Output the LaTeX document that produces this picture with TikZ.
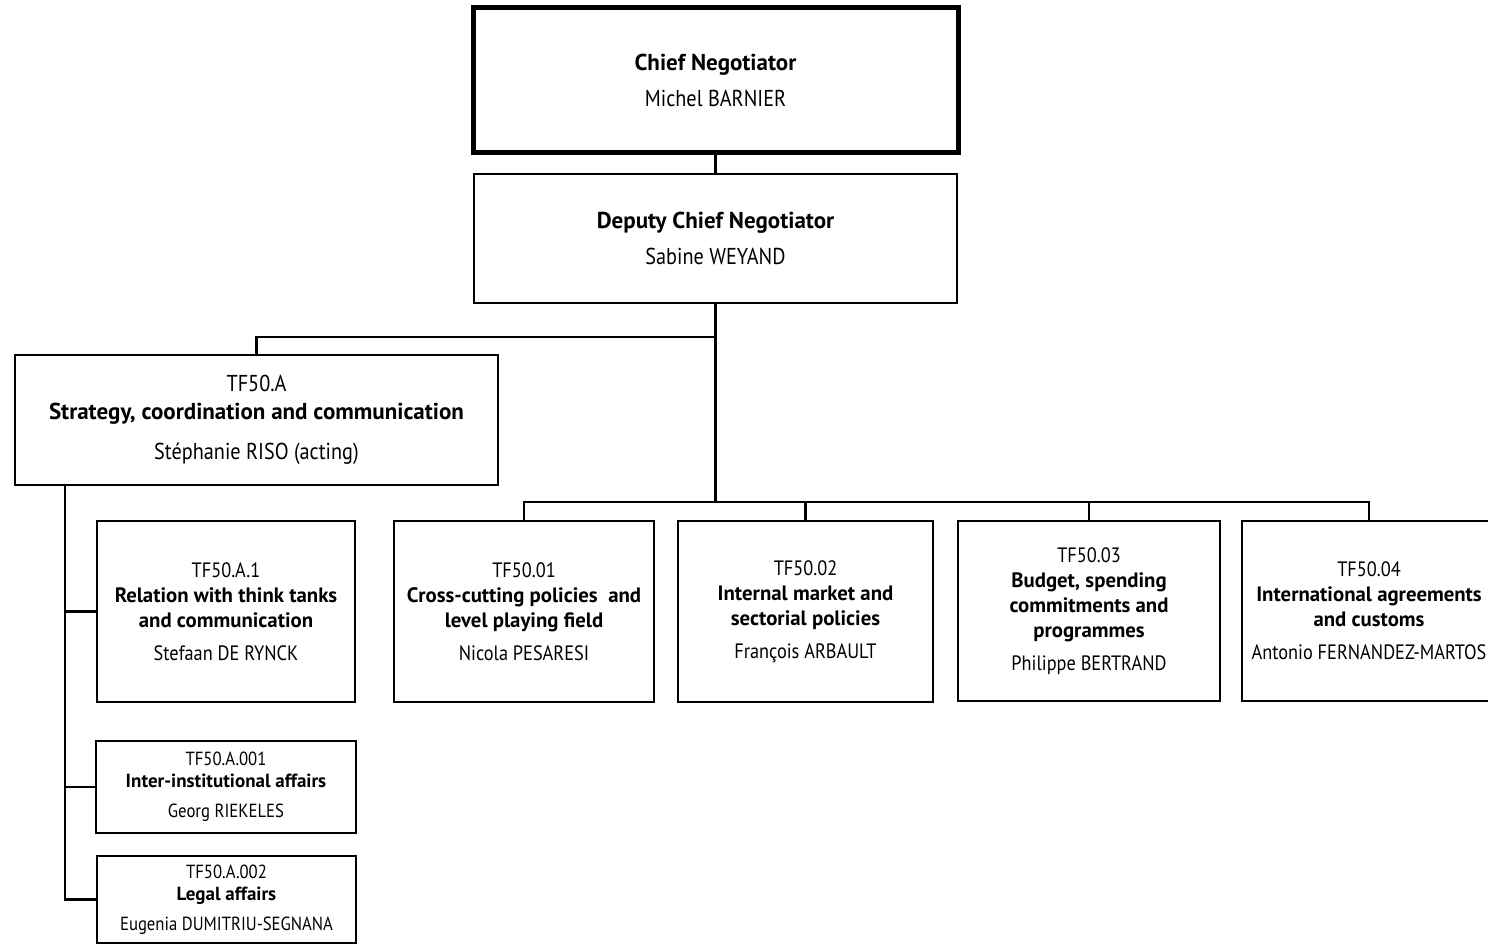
\documentclass[tikz,border=0pt]{standalone}
\usepackage{fontspec}
\setmainfont[UprightFeatures={FakeStretch=0.88}, BoldFeatures={FakeStretch=1.0}]{PT Sans}

\begin{document}
\begin{tikzpicture}[x=0.5pt, y=-0.5pt,
box/.style={rectangle, draw, line width=1.4pt, inner sep=0pt, align=center},
box-big/.style={box, font=\fontsize{11.5}{14}\selectfont},
box-unit/.style={box, font=\fontsize{10.4}{12.5}\selectfont},
box-small/.style={box, font=\fontsize{9.5}{11}\selectfont},
line/.style={draw, line width=1.3pt}
]
\useasboundingbox (0,0) rectangle (1488,945);

\node [box-big, line width=2.5pt, minimum width=242.5pt, minimum height=72.5pt] (chief) at (715.5,80.5)
{\textbf{Chief Negotiator}\\[4pt] Michel BARNIER};
\node [box-big, minimum width=241.5pt, minimum height=64.5pt] (deputy) at (715.5,238.5)
{\textbf{Deputy Chief Negotiator}\\[4pt] Sabine WEYAND};
\node [box-big, minimum width=241.5pt, minimum height=65pt] (tfa) at (256.5,420)
{TF50.A\\\textbf{Strategy, coordination and communication}\\[6pt] Stéphanie RISO (acting)};

% sub-units of TF50.A
\node [box-unit, minimum width=129pt, minimum height=90.5pt] (a1) at (226,611.5)
{TF50.A.1\\\textbf{Relation with think tanks}\\\textbf{and communication}\\[4pt] Stefaan DE RYNCK};
\node [box-small, minimum width=130pt, minimum height=46pt] (a001) at (226,787)
{TF50.A.001\\\textbf{Inter-institutional affairs}\\[4pt] Georg RIEKELES};
\node [box-small, minimum width=129.5pt, minimum height=43.5pt] (a002) at (226.5,899.5)
{TF50.A.002\\\textbf{Legal affairs}\\[4pt] Eugenia DUMITRIU-SEGNANA};

% units
\node [box-unit, minimum width=130pt, minimum height=90.5pt] (u01) at (524,611.5)
{TF50.01\\\textbf{Cross-cutting policies~ and}\\\textbf{level playing field}\\[4pt] Nicola PESARESI};
\node [box-unit, minimum width=127.5pt, minimum height=90.5pt] (u02) at (805.5,611.5)
{TF50.02\\\textbf{Internal market and}\\\textbf{sectorial policies}\\[4pt] François ARBAULT};
\node [box-unit, minimum width=131pt, minimum height=90pt] (u03) at (1089,611)
{TF50.03\\\textbf{Budget, spending}\\\textbf{commitments and}\\\textbf{programmes}\\[4pt] Philippe BERTRAND};
\node [box-unit, minimum width=127pt, minimum height=90pt] (u04) at (1369,611)
{TF50.04\\\textbf{International agreements}\\\textbf{and customs}\\[4pt] Antonio FERNANDEZ-MARTOS};

\coordinate (afork) at (715.5,337);
\coordinate (ubus) at (715.5,502);
\coordinate (spine) at (65,485);

\path [line] (chief) -- (deputy);
\path [line] (deputy.south) -- (ubus);
\path [line] (tfa.north) |- (afork);
\foreach \u in {u01,u02,u03,u04}
  \path [line] (\u.north) |- (ubus);
\path [line] (spine) |- (a002.west);
\path [line] (a1.west) -- (a1.west -| spine);
\path [line] (a001.west) -- (a001.west -| spine);
\end{tikzpicture}
\end{document}
